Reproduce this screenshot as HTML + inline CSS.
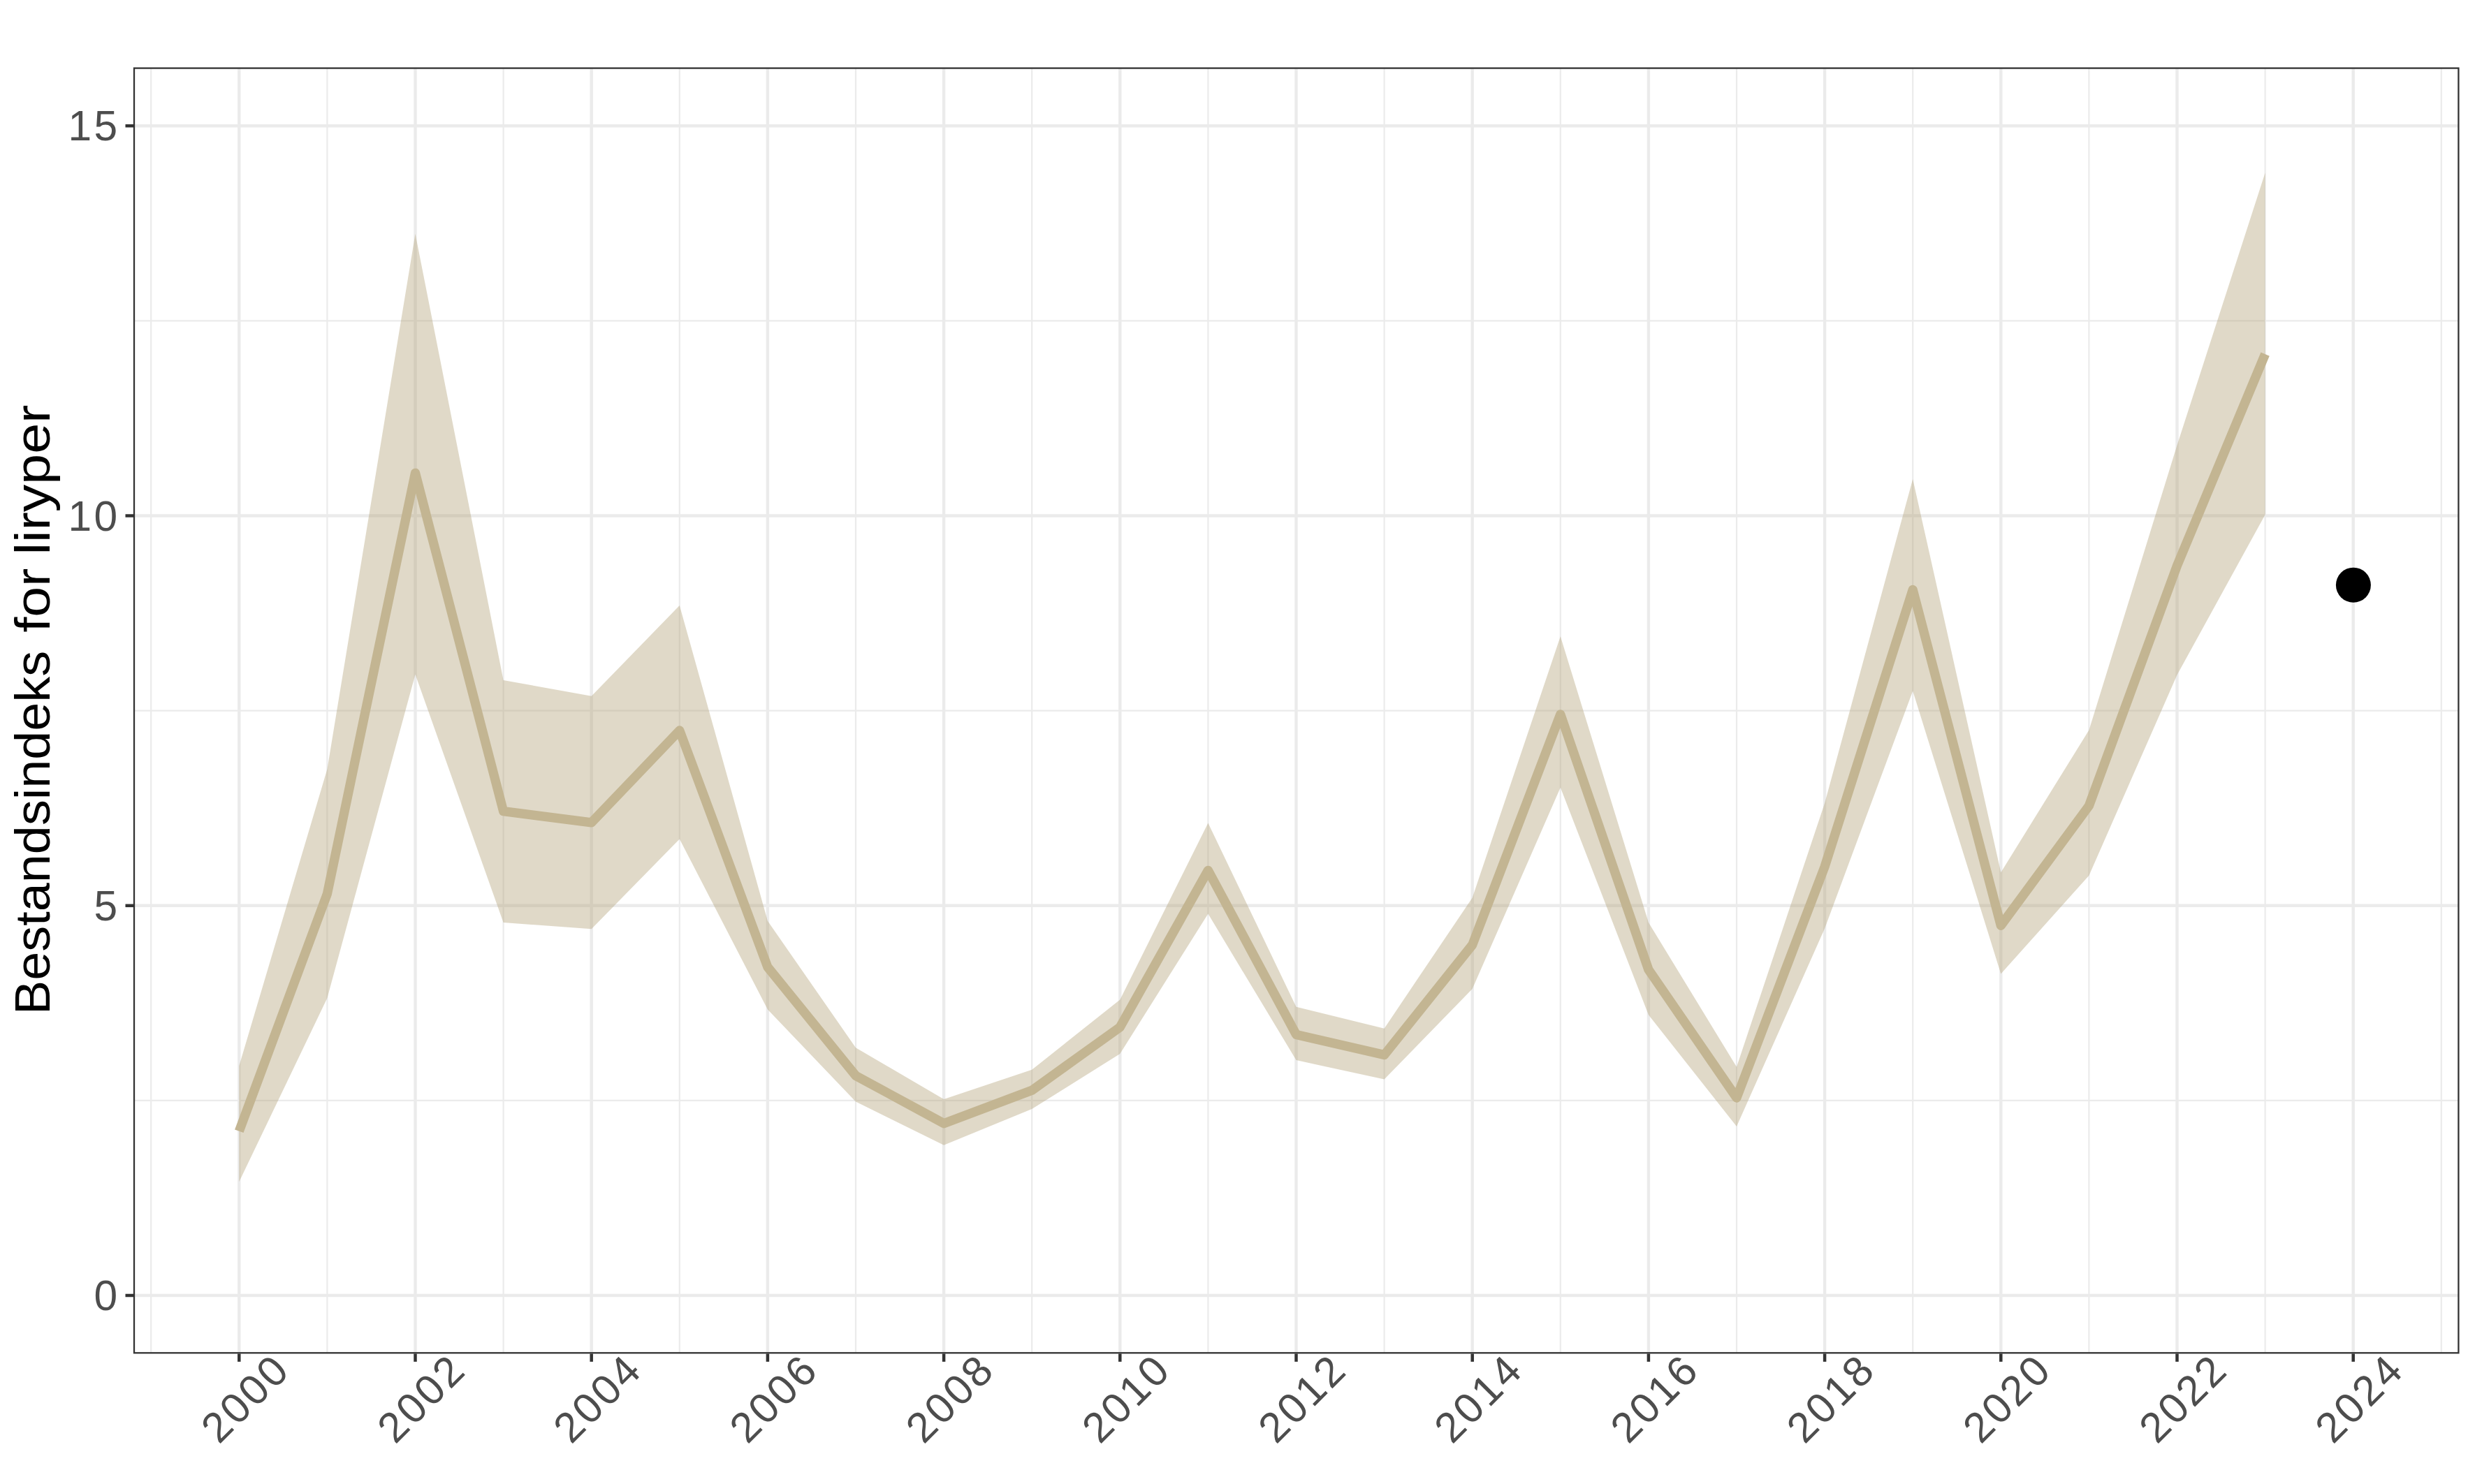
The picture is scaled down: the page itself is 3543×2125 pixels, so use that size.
<!DOCTYPE html>
<html lang="no">
<head>
<meta charset="utf-8">
<title>Bestandsindeks for liryper</title>
<style>
html,body{margin:0;padding:0;background:#ffffff;}
body{width:3543px;height:2125px;overflow:hidden;}
svg{display:block;}
text{font-family:"Liberation Sans",sans-serif;}
.ax{font-size:60.5px;fill:#4d4d4d;letter-spacing:3.46px;}
.ttl{font-size:70px;fill:#000000;}
</style>
</head>
<body>
<svg width="3543" height="2125" viewBox="0 0 3543 2125">
<rect x="0" y="0" width="3543" height="2125" fill="#ffffff"/>

<g stroke="#ebebeb" stroke-width="2.2" fill="none">
<line x1="192.0" x2="3519.4" y1="1575.9" y2="1575.9"/>
<line x1="192.0" x2="3519.4" y1="1017.6" y2="1017.6"/>
<line x1="192.0" x2="3519.4" y1="459.4" y2="459.4"/>
<line y1="97.6" y2="1937.3" x1="216.2" x2="216.2"/>
<line y1="97.6" y2="1937.3" x1="468.4" x2="468.4"/>
<line y1="97.6" y2="1937.3" x1="720.6" x2="720.6"/>
<line y1="97.6" y2="1937.3" x1="972.8" x2="972.8"/>
<line y1="97.6" y2="1937.3" x1="1225" x2="1225"/>
<line y1="97.6" y2="1937.3" x1="1477.2" x2="1477.2"/>
<line y1="97.6" y2="1937.3" x1="1729.4" x2="1729.4"/>
<line y1="97.6" y2="1937.3" x1="1981.6" x2="1981.6"/>
<line y1="97.6" y2="1937.3" x1="2233.8" x2="2233.8"/>
<line y1="97.6" y2="1937.3" x1="2486" x2="2486"/>
<line y1="97.6" y2="1937.3" x1="2738.2" x2="2738.2"/>
<line y1="97.6" y2="1937.3" x1="2990.4" x2="2990.4"/>
<line y1="97.6" y2="1937.3" x1="3242.6" x2="3242.6"/>
<line y1="97.6" y2="1937.3" x1="3494.8" x2="3494.8"/>
</g>
<g stroke="#ebebeb" stroke-width="4.4" fill="none">
<line x1="192.0" x2="3519.4" y1="1855" y2="1855"/>
<line x1="192.0" x2="3519.4" y1="1296.8" y2="1296.8"/>
<line x1="192.0" x2="3519.4" y1="738.5" y2="738.5"/>
<line x1="192.0" x2="3519.4" y1="180.2" y2="180.2"/>
<line y1="97.6" y2="1937.3" x1="342.3" x2="342.3"/>
<line y1="97.6" y2="1937.3" x1="594.5" x2="594.5"/>
<line y1="97.6" y2="1937.3" x1="846.7" x2="846.7"/>
<line y1="97.6" y2="1937.3" x1="1098.9" x2="1098.9"/>
<line y1="97.6" y2="1937.3" x1="1351.1" x2="1351.1"/>
<line y1="97.6" y2="1937.3" x1="1603.3" x2="1603.3"/>
<line y1="97.6" y2="1937.3" x1="1855.5" x2="1855.5"/>
<line y1="97.6" y2="1937.3" x1="2107.7" x2="2107.7"/>
<line y1="97.6" y2="1937.3" x1="2359.9" x2="2359.9"/>
<line y1="97.6" y2="1937.3" x1="2612.1" x2="2612.1"/>
<line y1="97.6" y2="1937.3" x1="2864.3" x2="2864.3"/>
<line y1="97.6" y2="1937.3" x1="3116.5" x2="3116.5"/>
<line y1="97.6" y2="1937.3" x1="3368.7" x2="3368.7"/>
</g>
<polygon points="342.3,1526.2 468.4,1101.4 594.5,334.8 720.6,974 846.7,996.7 972.8,867 1098.9,1318.8 1225,1500.3 1351.1,1573.9 1477.2,1531.8 1603.3,1431.5 1729.4,1178.5 1855.5,1441.7 1981.6,1472.7 2107.7,1285.4 2233.8,911.3 2359.9,1320.9 2486,1527.7 2612.1,1150 2738.2,685.9 2864.3,1249.2 2990.4,1045.6 3116.5,637.5 3242.6,247.4 3242.6,737 3116.5,966.6 2990.4,1253.7 2864.3,1394.5 2738.2,989.5 2612.1,1329.5 2486,1613.1 2359.9,1453.2 2233.8,1127.8 2107.7,1416 1981.6,1545.6 1855.5,1518.1 1729.4,1308.6 1603.3,1509 1477.2,1588 1351.1,1639.8 1225,1577.5 1098.9,1445.5 972.8,1201.5 846.7,1330.2 720.6,1321 594.5,965.7 468.4,1429.2 342.3,1692.3" fill="#b1a075" fill-opacity="0.4"/>
<polyline points="342.3,1619.8 468.4,1280 594.5,677.3 720.6,1161.6 846.7,1177.9 972.8,1046 1098.9,1384.7 1225,1540.3 1351.1,1608.7 1477.2,1561.3 1603.3,1470.8 1729.4,1246.3 1855.5,1481.4 1981.6,1510.6 2107.7,1353 2233.8,1022.9 2359.9,1388.5 2486,1572 2612.1,1241 2738.2,844.5 2864.3,1325.3 2990.4,1153.9 3116.5,810 3242.6,507.1" fill="none" stroke="#c3b592" stroke-width="13.3" stroke-linejoin="round" stroke-linecap="butt"/>
<circle cx="3368.9" cy="837.7" r="25" fill="#000000"/>
<rect x="192.0" y="97.6" width="3327.4" height="1839.7" fill="none" stroke="#333333" stroke-width="2.3"/>
<g stroke="#333333" stroke-width="4.5" fill="none">
<line x1="179.5" x2="191" y1="1855" y2="1855"/>
<line x1="179.5" x2="191" y1="1296.8" y2="1296.8"/>
<line x1="179.5" x2="191" y1="738.5" y2="738.5"/>
<line x1="179.5" x2="191" y1="180.2" y2="180.2"/>
<line y1="1938.4" y2="1949.9" x1="342.3" x2="342.3"/>
<line y1="1938.4" y2="1949.9" x1="594.5" x2="594.5"/>
<line y1="1938.4" y2="1949.9" x1="846.7" x2="846.7"/>
<line y1="1938.4" y2="1949.9" x1="1098.9" x2="1098.9"/>
<line y1="1938.4" y2="1949.9" x1="1351.1" x2="1351.1"/>
<line y1="1938.4" y2="1949.9" x1="1603.3" x2="1603.3"/>
<line y1="1938.4" y2="1949.9" x1="1855.5" x2="1855.5"/>
<line y1="1938.4" y2="1949.9" x1="2107.7" x2="2107.7"/>
<line y1="1938.4" y2="1949.9" x1="2359.9" x2="2359.9"/>
<line y1="1938.4" y2="1949.9" x1="2612.1" x2="2612.1"/>
<line y1="1938.4" y2="1949.9" x1="2864.3" x2="2864.3"/>
<line y1="1938.4" y2="1949.9" x1="3116.5" x2="3116.5"/>
<line y1="1938.4" y2="1949.9" x1="3368.7" x2="3368.7"/>
</g>
<text class="ax" x="171.6" y="1876.2" text-anchor="end">0</text>
<text class="ax" x="171.6" y="1318" text-anchor="end">5</text>
<text class="ax" x="171.6" y="759.7" text-anchor="end">10</text>
<text class="ax" x="171.6" y="201.4" text-anchor="end">15</text>
<text class="ax" transform="translate(418.4,1964.2) rotate(-45)" text-anchor="end">2000</text>
<text class="ax" transform="translate(670.6,1964.2) rotate(-45)" text-anchor="end">2002</text>
<text class="ax" transform="translate(922.8,1964.2) rotate(-45)" text-anchor="end">2004</text>
<text class="ax" transform="translate(1175,1964.2) rotate(-45)" text-anchor="end">2006</text>
<text class="ax" transform="translate(1427.2,1964.2) rotate(-45)" text-anchor="end">2008</text>
<text class="ax" transform="translate(1679.4,1964.2) rotate(-45)" text-anchor="end">2010</text>
<text class="ax" transform="translate(1931.6,1964.2) rotate(-45)" text-anchor="end">2012</text>
<text class="ax" transform="translate(2183.8,1964.2) rotate(-45)" text-anchor="end">2014</text>
<text class="ax" transform="translate(2436,1964.2) rotate(-45)" text-anchor="end">2016</text>
<text class="ax" transform="translate(2688.2,1964.2) rotate(-45)" text-anchor="end">2018</text>
<text class="ax" transform="translate(2940.4,1964.2) rotate(-45)" text-anchor="end">2020</text>
<text class="ax" transform="translate(3192.6,1964.2) rotate(-45)" text-anchor="end">2022</text>
<text class="ax" transform="translate(3444.8,1964.2) rotate(-45)" text-anchor="end">2024</text>
<g class="ttl">
<text transform="translate(70.8,1453) rotate(-90)" textLength="521.2" lengthAdjust="spacingAndGlyphs">Bestandsindeks</text>
<text transform="translate(70.8,905.5) rotate(-90)" textLength="91.8" lengthAdjust="spacingAndGlyphs">for</text>
<text transform="translate(70.8,794.5) rotate(-90)" textLength="214.8" lengthAdjust="spacingAndGlyphs">liryper</text>
</g>
</svg>
</body>
</html>
